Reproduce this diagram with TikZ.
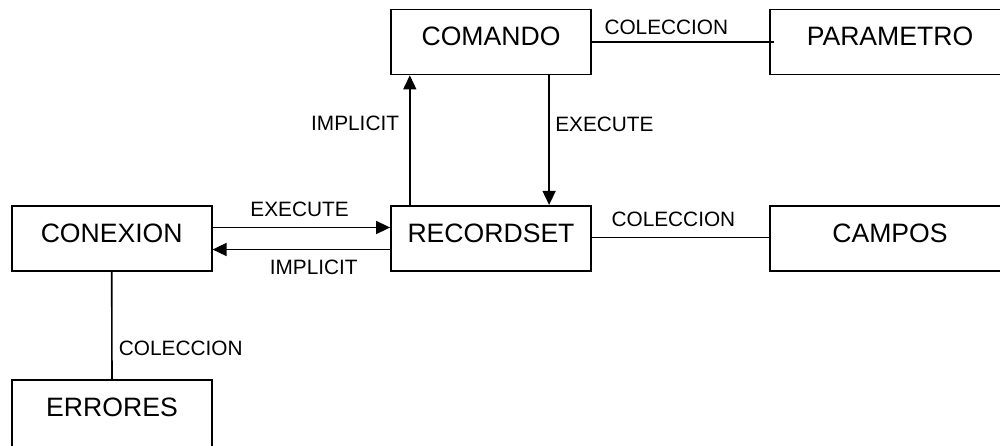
\documentclass[tikz,border=0pt]{standalone}
\usepackage{fontspec}
\setmainfont{Liberation Sans}
\usetikzlibrary{arrows.meta}

\tikzset{
  entity/.style={draw=black, line width=1.8pt, fill=white, inner sep=0pt,
    minimum width=200pt, minimum height=65pt,
    font=\fontsize{26.6}{30}\selectfont, text height=19pt, text depth=11.6pt},
  wideentity/.style={entity, minimum width=240pt},
  tallentity/.style={entity, minimum height=70pt, text depth=16pt},
  link/.style={draw=black, line width=1.6pt},
  arr/.style={link, -{Triangle[length=14pt,width=13pt]}},
  lbl/.style={inner sep=0pt, font=\fontsize{20.8}{24}\selectfont}
}

\begin{document}
\begin{tikzpicture}[x=1pt, y=-1pt]
  \useasboundingbox (0,0) rectangle (1000,445);
  \clip (0,0) rectangle (1000,445);

  % objects of the model
  \node[entity]     (comando)   at (491,42)      {COMANDO};
  \node[wideentity] (parametro) at (890,42)      {PARAMETRO};
  \node[entity]     (conexion)  at (111.7,238.3) {CONEXION};
  \node[entity]     (recordset) at (491,238.3)   {RECORDSET};
  \node[wideentity] (campos)    at (890,238.3)   {CAMPOS};
  \node[tallentity] (errores)   at (112,415)     {ERRORES};

  % collections
  \draw[link, shorten >=-5pt] (comando.east) -- (parametro.west)
    node[lbl, pos=0.42, yshift=15pt] {COLECCION};
  \draw[link] ([yshift=0.8pt]recordset.east) -- ([yshift=0.8pt]campos.west)
    node[lbl, pos=0.46, yshift=17.9pt] {COLECCION};
  \draw[link] (conexion.south) -- (errores.north)
    node[lbl, pos=0.71, xshift=68.8pt] {COLECCION};

  % command / recordset
  \draw[arr] ([xshift=19.7pt]recordset.north west) -- ([xshift=19.7pt]comando.south west)
    node[lbl, pos=0.63, xshift=-54.7pt] {IMPLICIT};
  \draw[arr] ([xshift=159pt]comando.south west) -- ([xshift=159pt]recordset.north west)
    node[lbl, pos=0.38, xshift=55.3pt] {EXECUTE};

  % connection / recordset
  \draw[arr] ([yshift=10.8pt]conexion.east) -- ([yshift=10.8pt]recordset.west)
    node[lbl, pos=0.49, yshift=18.5pt] {EXECUTE};
  \draw[arr] ([yshift=-11.2pt]recordset.west) -- ([yshift=-11.2pt]conexion.east)
    node[lbl, pos=0.43, yshift=-17.8pt] {IMPLICIT};
\end{tikzpicture}
\end{document}
